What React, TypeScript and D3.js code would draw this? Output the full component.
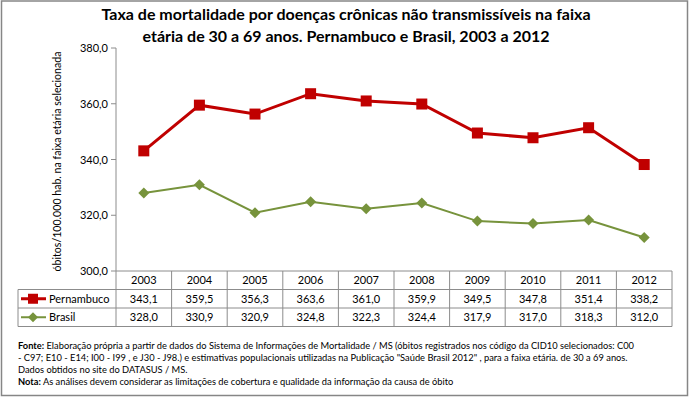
import React from 'react';
import * as d3 from 'd3';

const years = ['2003', '2004', '2005', '2006', '2007', '2008', '2009', '2010', '2011', '2012'];
const pernambuco = [343.1, 359.5, 356.3, 363.6, 361.0, 359.9, 349.5, 347.8, 351.4, 338.2];
const brasil = [328.0, 330.9, 320.9, 324.8, 322.3, 324.4, 317.9, 317.0, 318.3, 312.0];
const yTicks = [300, 320, 340, 360, 380];

const titleLines = [
    'Taxa de mortalidade por doenças crônicas não transmissíveis na faixa',
    'etária de 30 a 69 anos. Pernambuco e Brasil, 2003 a 2012'
];
const yTitle = 'óbitos/100.000 hab. na faixa etária selecionada';
const noteLines = [
    ['Fonte:', ' Elaboração própria a partir de dados do Sistema de Informações de Mortalidade / MS (óbitos registrados nos código da CID10 selecionados: C00'],
    ['', '- C97; E10 - E14; I00 - I99 , e J30 - J98.) e estimativas populacionais utilizadas na Publicação "Saúde Brasil 2012" , para a faixa etária. de 30 a 69 anos.'],
    ['', 'Dados obtidos no site do DATASUS / MS.'],
    ['Nota:', '  As análises devem considerar as limitações de cobertura e qualidade da informação da causa de óbito']
];

const RED = '#C00000';
const GREEN = '#77933C';
const GRID = '#8c8c8c';
const FONT = 'Lato, "Open Sans", sans-serif';

const fmt = (v: number) => v.toFixed(1).replace('.', ',');

export default function App()
{
    const left = 116, right = 672, top = 48, bottom = 271;
    const x = d3.scaleBand().domain(years).range([left, right]);
    const y = d3.scaleLinear().domain([300, 380]).range([bottom, top]);
    const cx = (yr: string) => (x(yr) as number) + x.bandwidth() / 2;

    const line = d3.line<number>()
        .x((d, i) => cx(years[i]))
        .y(d => y(d));

    const rowH = 18.5;
    const headerBottom = bottom + rowH;
    const legLeft = 18;
    const series = [
        {name: 'Pernambuco', data: pernambuco, color: RED},
        {name: 'Brasil', data: brasil, color: GREEN}
    ];

    const diamond = (px: number, py: number, r: number) =>
        `M${px},${py - r}L${px + r},${py}L${px},${py + r}L${px - r},${py}Z`;

    return (
        <svg width={690} height={397} style={{position: 'absolute', left: 0, top: 0}}
             fontFamily={FONT}>
            <rect x={0} y={0} width={690} height={397} fill="#fff"/>
            <rect x={1.5} y={1} width={686} height={394.5} fill="none" stroke="#868686" strokeWidth={1.5}/>

            {titleLines.map((t, i) => (
                <text key={i} x={346} y={20 + i * 22} textAnchor="middle" fontSize={16}
                      fontWeight="bold" fill="#000">{t}</text>
            ))}

            <text transform={`translate(61,${(top + bottom) / 2 + 2}) rotate(-90)`} textAnchor="middle"
                  fontSize={10.6} fill="#000">{yTitle}</text>

            {/* value axis */}
            <line x1={left} x2={left} y1={top} y2={bottom} stroke={GRID}/>
            {yTicks.map(t => (
                <g key={t}>
                    <line x1={left - 5} x2={left} y1={y(t)} y2={y(t)} stroke={GRID}/>
                    <text x={left - 8} y={y(t) + 4} textAnchor="end" fontSize={11} fill="#000">{fmt(t)}</text>
                </g>
            ))}

            {/* lines */}
            <path d={line(brasil) as string} fill="none" stroke={GREEN} strokeWidth={2}/>
            {brasil.map((v, i) => (
                <path key={i} d={diamond(cx(years[i]), y(v), 5.5)} fill={GREEN}/>
            ))}
            <path d={line(pernambuco) as string} fill="none" stroke={RED} strokeWidth={3}/>
            {pernambuco.map((v, i) => (
                <rect key={i} x={cx(years[i]) - 5.5} y={y(v) - 5.5} width={11} height={11} fill={RED}/>
            ))}

            {/* data table */}
            <g stroke={GRID} strokeWidth={1}>
                <line x1={left} x2={right} y1={bottom} y2={bottom}/>
                <line x1={legLeft} x2={right} y1={headerBottom} y2={headerBottom}/>
                <line x1={legLeft} x2={right} y1={headerBottom + rowH} y2={headerBottom + rowH}/>
                <line x1={legLeft} x2={right} y1={headerBottom + 2 * rowH} y2={headerBottom + 2 * rowH}/>
                <line x1={legLeft} x2={legLeft} y1={headerBottom} y2={headerBottom + 2 * rowH}/>
                {years.map(yr => (
                    <line key={yr} x1={x(yr)} x2={x(yr)} y1={bottom} y2={headerBottom + 2 * rowH}/>
                ))}
                <line x1={right} x2={right} y1={bottom} y2={headerBottom + 2 * rowH}/>
            </g>
            {years.map(yr => (
                <text key={yr} x={cx(yr)} y={bottom + 13} textAnchor="middle" fontSize={11} fill="#000">{yr}</text>
            ))}
            {series.map((s, r) => {
                const ry = headerBottom + r * rowH + rowH / 2;
                return (
                    <g key={s.name}>
                        <line x1={21} x2={46} y1={ry} y2={ry} stroke={s.color} strokeWidth={r === 0 ? 3 : 2}/>
                        {r === 0
                            ? <rect x={28} y={ry - 5} width={10} height={10} fill={s.color}/>
                            : <path d={diamond(33, ry, 5)} fill={s.color}/>}
                        <text x={49} y={ry + 4} fontSize={11} fill="#000">{s.name}</text>
                        {s.data.map((v, i) => (
                            <text key={i} x={cx(years[i])} y={ry + 4} textAnchor="middle" fontSize={11}
                                  fill="#000">{fmt(v)}</text>
                        ))}
                    </g>
                );
            })}

            {/* notes */}
            {noteLines.map((n, i) => (
                <text key={i} x={18} y={349 + i * 12} fontSize={9.3} fill="#000">
                    {n[0] && <tspan fontWeight="bold">{n[0]}</tspan>}
                    <tspan>{n[1]}</tspan>
                </text>
            ))}
        </svg>
    );
}
